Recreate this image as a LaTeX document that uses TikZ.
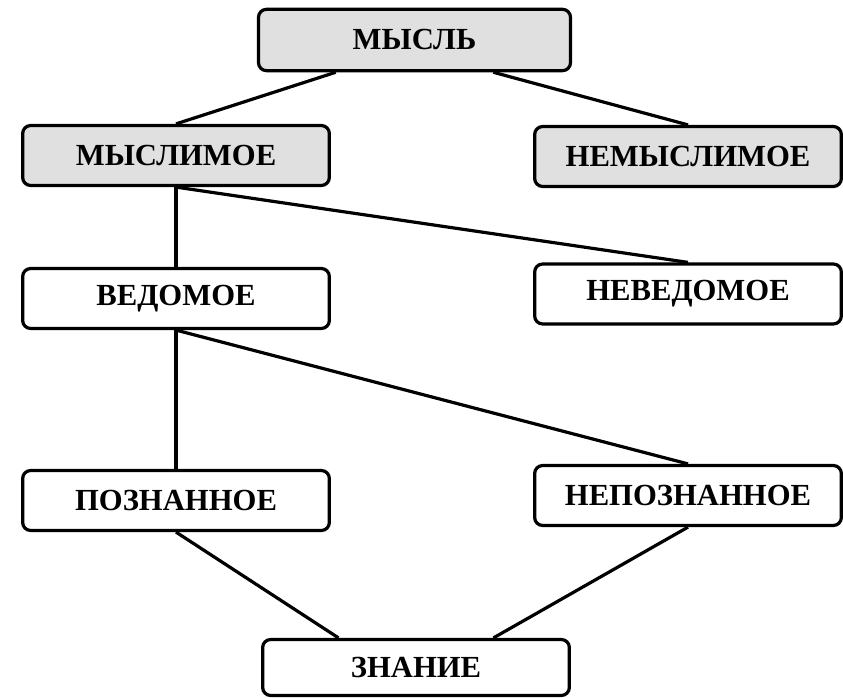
\documentclass[tikz,border=0pt]{standalone}
\usepackage{fontspec}
\setmainfont{Liberation Serif}
\usetikzlibrary{calc}
\definecolor{boxgray}{RGB}{224,224,224}
\tikzset{every path/.style={black,line width=2.4pt}, every node/.style={font=\fontsize{23}{27}\selectfont\bfseries}}
\tikzset{term/.style={draw,rounded corners=6pt,minimum width=230pt,minimum height=45pt,inner sep=0pt}, shaded/.style={term,fill=boxgray}}

\begin{document}
\begin{tikzpicture}[x=0.75pt,y=-0.75pt]
  \useasboundingbox (0,0) rectangle (843,698);
  \node[shaded,minimum width=234pt,minimum height=46pt] (mysl) at (414.5,40) {МЫСЛЬ};
  \node[shaded] (myslimoe)    at (176,155.5) {МЫСЛИМОЕ};
  \node[shaded] (nemyslimoe)  at (688,156.5) {НЕМЫСЛИМОЕ};
  \node[term]   (vedomoe)     at (176,298.5) {ВЕДОМОЕ};
  \node[term]   (nevedomoe)   at (688,294)   {НЕВЕДОМОЕ};
  \node[term]   (poznannoe)   at (176,500.5) {ПОЗНАННОЕ};
  \node[term]   (nepoznannoe) at (688,495.5) {НЕПОЗНАННОЕ};
  \node[term,minimum height=42pt] (znanie) at (416,667.5) {ЗНАНИЕ};
  \draw ($(mysl.south west)!.25!(mysl.south east)$) -- (myslimoe.north);
  \draw ($(mysl.south west)!.75!(mysl.south east)$) -- (nemyslimoe.north);
  \draw (myslimoe.south) -- (vedomoe.north);
  \draw (myslimoe.south) -- (nevedomoe.north);
  \draw (vedomoe.south) -- (poznannoe.north);
  \draw (vedomoe.south) -- (nepoznannoe.north);
  \draw (poznannoe.south) -- ($(znanie.north west)!.25!(znanie.north east)$);
  \draw (nepoznannoe.south) -- ($(znanie.north west)!.75!(znanie.north east)$);
\end{tikzpicture}
\end{document}
